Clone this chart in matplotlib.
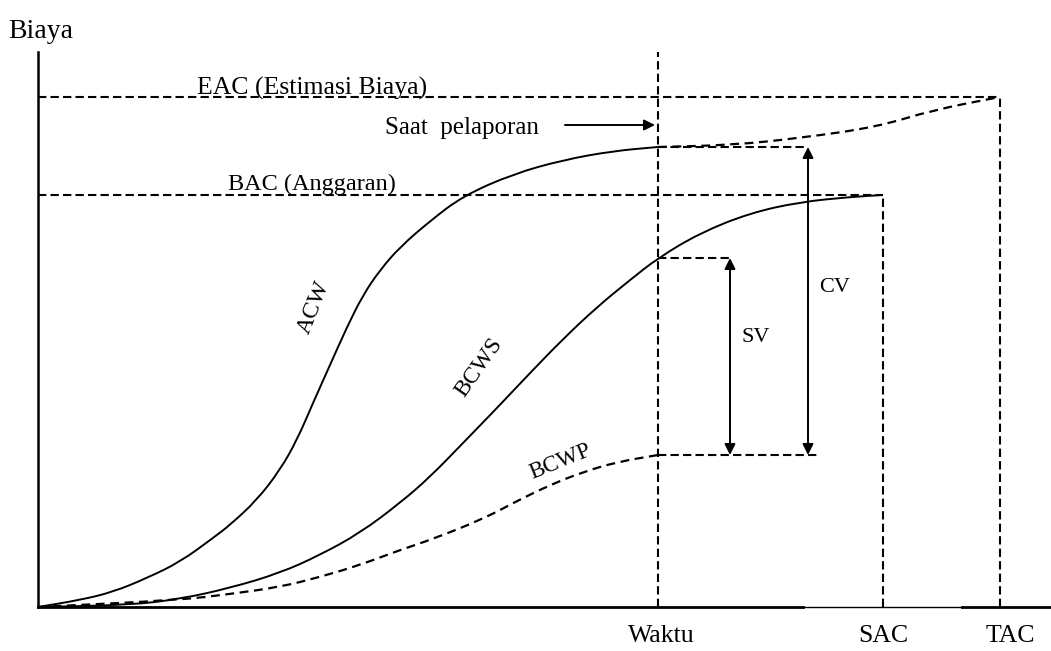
import matplotlib
matplotlib.use("Agg")
import matplotlib.pyplot as plt
from matplotlib.path import Path
from matplotlib.patches import PathPatch

# %% Data (schematic units).
t_report = 620   # Waktu / saat pelaporan
t_sac = 845
t_tac = 962
eac = 510
bac = 412
y_top = 555

acw_t = [0, 42, 75, 109, 142, 175, 192, 219, 242, 259, 275, 292, 309, 325,
         342, 362, 392, 425, 475, 525, 575, 620]
acw_c = [0, 7, 15, 29, 45, 69, 82, 107, 137, 167, 204, 242, 280, 312,
         337, 360, 386, 411, 433, 447, 456, 460]

fcst_t = [620, 695, 762, 839, 895, 962]
fcst_c = [460, 462, 469, 480, 497, 510]

bcws_t = [0, 92, 142, 192, 242, 282, 322, 362, 392, 425, 459, 492, 525,
          559, 592, 620, 662, 712, 762, 812, 845]
bcws_c = [0, 2, 8, 19, 34, 52, 74, 104, 130, 164, 199, 234, 268,
          300, 327, 349, 374, 394, 405, 410, 412]

bcwp_t = [0, 142, 192, 242, 282, 322, 362, 395, 445, 479, 512, 545, 579, 620]
bcwp_c = [0, 7, 13, 20, 30, 42, 57, 68, 88, 106, 122, 135, 145, 152]

sv_x = 692
cv_x = 770

plt.rcParams['font.family'] = ['Liberation Serif', 'DejaVu Serif']


def smooth_curve(ax, xs, ys, **kw):
    # quadratic bezier through midpoints, read points act as control points
    pts = list(zip(xs, ys))
    verts = [pts[0]]
    codes = [Path.MOVETO]
    mid = ((pts[0][0] + pts[1][0]) / 2, (pts[0][1] + pts[1][1]) / 2)
    verts.append(mid)
    codes.append(Path.LINETO)
    for i in range(1, len(pts) - 1):
        nxt = ((pts[i][0] + pts[i + 1][0]) / 2, (pts[i][1] + pts[i + 1][1]) / 2)
        verts.extend([pts[i], nxt])
        codes.extend([Path.CURVE3, Path.CURVE3])
    verts.append(pts[-1])
    codes.append(Path.LINETO)
    ax.add_patch(PathPatch(Path(verts, codes), fill=False, **kw))


# %% Figure.
fig = plt.figure(figsize=(10.51, 6.51), dpi=100)
ax = fig.add_axes([0, 0, 1, 1])
ax.set_xlim(-38, 1013)
ax.set_ylim(-44, 607)
ax.axis('off')

dash = dict(color='black', lw=1.5, linestyle=(0, (4, 2)))

# axes
ax.plot([0, 0], [0, y_top], color='black', lw=1.8)
ax.plot([0, 765], [0, 0], color='black', lw=2)
ax.plot([765, 924], [0, 0], color='black', lw=1)
ax.plot([924, 1013], [0, 0], color='black', lw=2)

# reference lines
ax.plot([0, t_tac], [eac, eac], **dash)
ax.plot([0, t_sac], [bac, bac], **dash)
ax.plot([t_report, t_report], [0, y_top], **dash)
ax.plot([t_sac, t_sac], [0, bac], **dash)
ax.plot([t_tac, t_tac], [0, eac], **dash)
ax.plot([t_report, cv_x], [acw_c[-1], acw_c[-1]], **dash)
ax.plot([t_report, sv_x], [bcws_c[15], bcws_c[15]], **dash)
ax.plot([t_report, cv_x + 9], [bcwp_c[-1], bcwp_c[-1]], **dash)

# curves
smooth_curve(ax, acw_t, acw_c, edgecolor='black', lw=1.4)
smooth_curve(ax, bcws_t, bcws_c, edgecolor='black', lw=1.4)
smooth_curve(ax, bcwp_t, bcwp_c, edgecolor='black', lw=1.6,
             linestyle=(0, (4, 2.5)))
smooth_curve(ax, fcst_t, fcst_c, edgecolor='black', lw=1.6,
             linestyle=(0, (4, 2.5)))

# arrows
arr = dict(arrowstyle='<|-|>', color='black', lw=1.4, mutation_scale=16,
           shrinkA=0, shrinkB=0)
ax.annotate('', xy=(sv_x, bcws_c[15]), xytext=(sv_x, bcwp_c[-1]), arrowprops=arr)
ax.annotate('', xy=(cv_x, acw_c[-1]), xytext=(cv_x, bcwp_c[-1]), arrowprops=arr)
ax.annotate('', xy=(t_report - 3, 482), xytext=(527, 482),
            arrowprops=dict(arrowstyle='-|>', color='black', lw=1.4,
                            mutation_scale=16, shrinkA=0, shrinkB=0))

# texts
ax.text(-30, 575, 'Biaya', fontsize=20, va='center', ha='left')
ax.text(159, 512, 'EAC (Estimasi Biaya)', fontsize=18.5, va='baseline', ha='left')
ax.text(347, 479, 'Saat  pelaporan', fontsize=18, va='center', ha='left')
ax.text(190, 417, 'BAC (Anggaran)', fontsize=17.5, va='baseline', ha='left')
ax.text(276, 300, 'ACW', fontsize=17, rotation=68, ha='center', va='center')
ax.text(441, 240, 'BCWS', fontsize=17, rotation=55, ha='center', va='center')
ax.text(522, 145, 'BCWP', fontsize=16.5, rotation=22, ha='center', va='center')
ax.text(718, 269, 'SV', fontsize=16, ha='center', va='center')
ax.text(797, 320, 'CV', fontsize=16, ha='center', va='center')
ax.text(623, -29, 'Waktu', fontsize=18.5, ha='center', va='center')
ax.text(t_sac, -29, 'SAC', fontsize=18.5, ha='center', va='center')
ax.text(t_tac + 10, -29, 'TAC', fontsize=18.5, ha='center', va='center')

fig.savefig('out.png', dpi=100)
